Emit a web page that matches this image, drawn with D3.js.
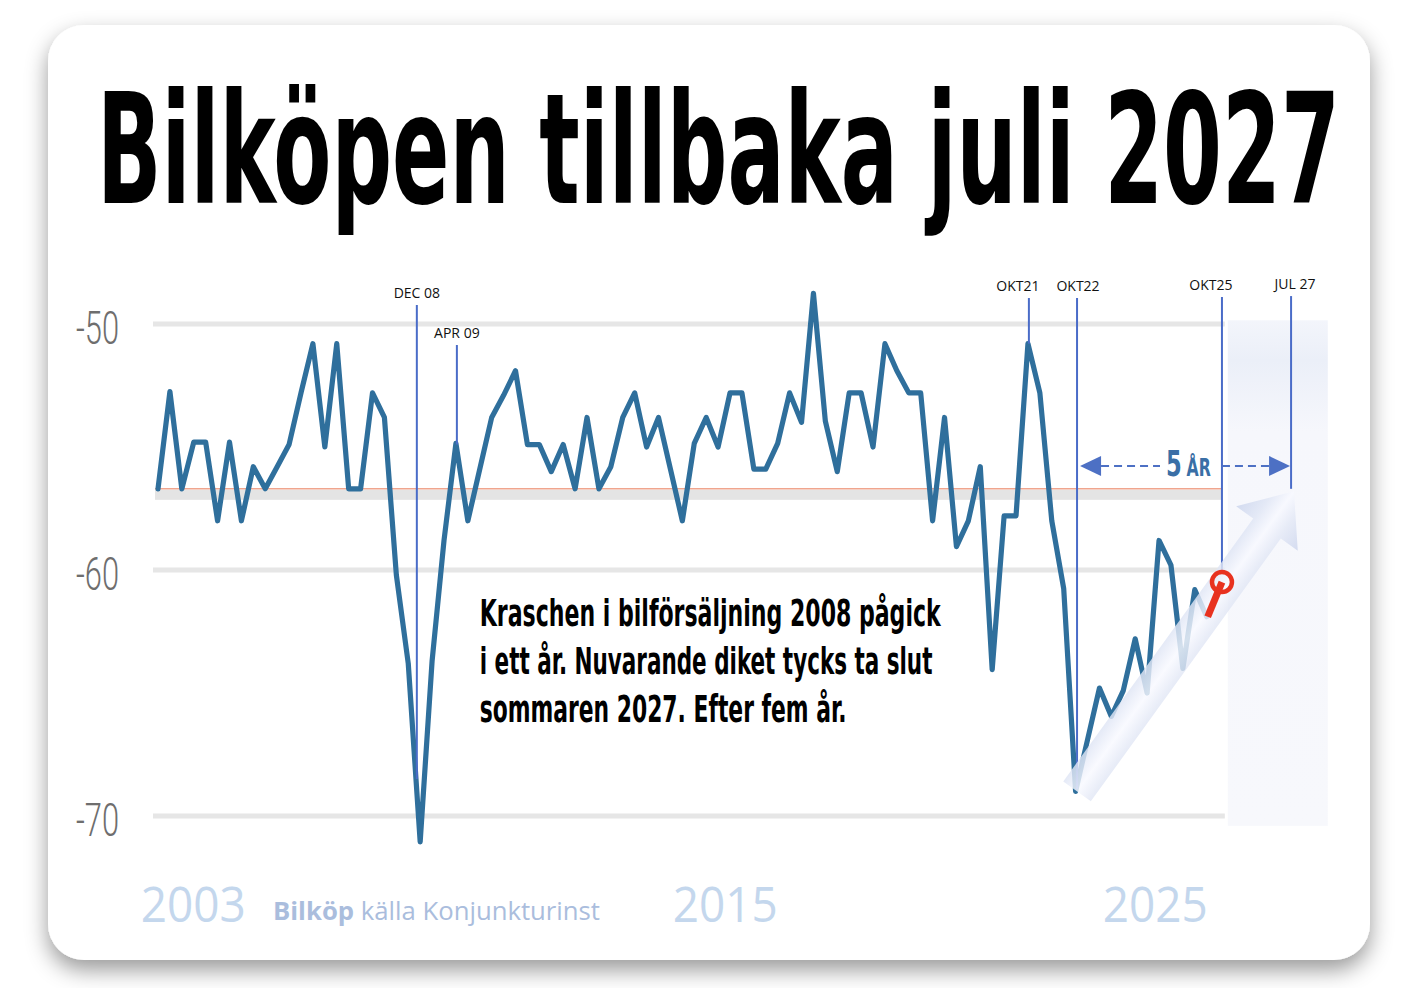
<!DOCTYPE html>
<html>
<head>
<meta charset="utf-8">
<script src="https://cdn.jsdelivr.net/npm/d3@7"></script>
<style>
  body { margin: 0; background: #fff; }
  svg { display: block; }
</style>
</head>
<body>
<svg></svg>
<script>
// Bilköp (Konjunkturinstitutet), ett värde per kvartal från 2003
var startYear = 2003;
var bilkop = [
  -56.7, -52.75, -56.7, -54.8, -54.8, -58.0, -54.8, -58.0, -55.8, -56.7,
  -55.8, -54.9, -52.8, -50.8, -55.0, -50.8, -56.7, -56.7, -52.8, -53.8,
  -60.2, -63.8, -71.05, -63.7, -58.8, -54.85, -58.0, -55.9, -53.8, -52.9,
  -51.9, -54.9, -54.9, -56.0, -54.9, -56.7, -53.8, -56.7, -55.8, -53.8,
  -52.8, -55.0, -53.8, -55.9, -58.0, -54.85, -53.8, -55.0, -52.8, -52.8,
  -55.9, -55.9, -54.85, -52.8, -54.0, -48.75, -53.95, -56.0, -52.8, -52.8,
  -55.0, -50.8, -51.9, -52.8, -52.8, -58.0, -53.8, -59.05, -58.0, -55.8,
  -64.05, -57.8, -57.8, -50.8, -52.8, -58.0, -60.75, -69.0, -66.9, -64.8,
  -65.95, -64.9, -62.8, -65.0, -58.8, -59.8, -64.0, -60.8, -61.9
];
var baseline = -56.7;          // medelnivå (röd linje)
var yTicks = [-50, -60, -70];

// markeringar i diagrammet
var markerNames = ["DEC 08", "APR 09", "OKT21", "OKT22", "OKT25", "JUL 27"];
var markerYears = [2008.43, 2009.27, 2021.27, 2022.28, 2025.32, 2026.77];
var markerEnds  = [-68.5, -54.9, -50.8, -68.9, -60.0, -56.7];

// årtal längst ner
var xLabels = ["2003", "2015", "2025"];
var xLabelYears = [2003.73, 2014.89, 2023.91];

// texten i diagrammet
var noteLines = [
  "Kraschen i bilförsäljning 2008 pågick",
  "i ett år. Nuvarande diket tycks ta slut",
  "sommaren 2027. Efter fem år."
];
var noteWidths = [461, 453, 367];

// prognospilen: från botten okt 22 till juli 27
var trendFrom = [2022.28, -69.0];
var trendTo = [2026.83, -56.8];
// röd nål vid okt 25
var pinAt = [2025.32, -60.49];
var spanValue = -55.77;   // höjd för "5 ÅR"-pilen

var years = bilkop.map(function (d, i) { return startYear + i / 4; });

var svgWidth = 1412, svgHeight = 988;
var svg = d3.select("svg")
  .attr("width", svgWidth)
  .attr("height", svgHeight);

var defs = svg.append("defs");

// trycker ihop en text till given bredd (smala typsnitt saknas)
function fitText(sel, width) {
  sel.each(function (d, i) {
    var w = typeof width === "function" ? width(d, i) : width;
    var n = this.getComputedTextLength();
    var x = +this.getAttribute("x");
    d3.select(this).attr("transform",
      "translate(" + x + ",0) scale(" + (w / n) + ",1) translate(" + (-x) + ",0)");
  });
}

// skugga runt kortet
var shadow = defs.append("filter").attr("id", "shadow")
  .attr("x", "-10%").attr("y", "-10%").attr("width", "120%").attr("height", "125%");
shadow.append("feDropShadow")
  .attr("dx", 0).attr("dy", 10).attr("stdDeviation", 11)
  .attr("flood-color", "#000").attr("flood-opacity", 0.4);

svg.append("rect")
  .attr("x", 48).attr("y", 25)
  .attr("width", 1322).attr("height", 935)
  .attr("rx", 36)
  .attr("fill", "#fff")
  .attr("filter", "url(#shadow)");

// skalor
var xScale = d3.scaleLinear()
  .domain([startYear, startYear + 22])
  .range([158, 1206.7]);

var yScale = d3.scaleLinear()
  .domain([-70, -50])
  .range([816, 324]);

// ljus panel till höger (framtiden)
var panelGrad = defs.append("linearGradient").attr("id", "panelGrad")
  .attr("x1", 0).attr("y1", 0).attr("x2", 0).attr("y2", 1);
panelGrad.append("stop").attr("offset", "0%").attr("stop-color", "#f3f5fb");
panelGrad.append("stop").attr("offset", "8%").attr("stop-color", "#ebeff8");
panelGrad.append("stop").attr("offset", "22%").attr("stop-color", "#f6f7fc");
panelGrad.append("stop").attr("offset", "100%").attr("stop-color", "#f7f8fc");

svg.append("rect")
  .attr("x", xScale(2025.38) + 3)
  .attr("y", yScale(-49.85))
  .attr("width", 100)
  .attr("height", yScale(-70.4) - yScale(-49.85))
  .attr("fill", "url(#panelGrad)");

// stödlinjer
svg.append("g")
  .selectAll("line")
  .data(yTicks)
  .enter()
  .append("line")
  .attr("x1", xScale(startYear) - 5)
  .attr("x2", xScale(2025.38))
  .attr("y1", function (d) { return yScale(d); })
  .attr("y2", function (d) { return yScale(d); })
  .attr("stroke", "#e6e6e6")
  .attr("stroke-width", 5);

// y-axeln, bara etiketterna
var yAxis = d3.axisLeft(yScale)
  .tickValues(yTicks)
  .tickSize(0)
  .tickPadding(0)
  .tickFormat(function (d) { return String(d); });

var gy = svg.append("g")
  .attr("transform", "translate(119,5)")
  .call(yAxis);
gy.select(".domain").remove();
gy.selectAll("text")
  .attr("font-family", "Roboto, sans-serif")
  .attr("font-weight", 300)
  .attr("font-size", 46)
  .attr("fill", "#6e6e6e")
  .attr("textLength", 43)
  .attr("lengthAdjust", "spacingAndGlyphs");

// grått band + röd medellinje
svg.append("rect")
  .attr("x", xScale(startYear) - 3)
  .attr("y", yScale(baseline) + 1)
  .attr("width", xScale(2025.32) - xScale(startYear) + 3)
  .attr("height", 10)
  .attr("fill", "#e4e4e4");
svg.append("line")
  .attr("x1", xScale(startYear) - 3)
  .attr("x2", xScale(2025.32))
  .attr("y1", yScale(baseline))
  .attr("y2", yScale(baseline))
  .attr("stroke", "#f0a58e")
  .attr("stroke-width", 1.6);

// själva kurvan
var line = d3.line()
  .x(function (d, i) { return xScale(years[i]); })
  .y(function (d) { return yScale(d); });

svg.append("path")
  .datum(bilkop)
  .attr("d", line)
  .attr("fill", "none")
  .attr("stroke", "#2f6f9c")
  .attr("stroke-width", 5.2)
  .attr("stroke-linejoin", "round")
  .attr("stroke-linecap", "round");

// lodräta markeringslinjer och etiketter
var labelTop = [-48.94, -50.57, -48.66, -48.66, -48.62, -48.58];
var labelShift = [0, 0, -11, 1, -11, 4];
var markers = svg.append("g");
markers.selectAll("line")
  .data(markerYears)
  .enter()
  .append("line")
  .attr("x1", function (d) { return xScale(d); })
  .attr("x2", function (d) { return xScale(d); })
  .attr("y1", function (d, i) { return yScale(labelTop[i]) + 7; })
  .attr("y2", function (d, i) { return yScale(markerEnds[i]); })
  .attr("stroke", "#4a6cc8")
  .attr("stroke-width", 2);
markers.selectAll("text")
  .data(markerNames)
  .enter()
  .append("text")
  .attr("x", function (d, i) { return xScale(markerYears[i]) + labelShift[i]; })
  .attr("y", function (d, i) { return yScale(labelTop[i]); })
  .attr("text-anchor", "middle")
  .attr("font-family", "'Open Sans', sans-serif")
  .attr("font-size", 14)
  .attr("fill", "#111")
  .text(function (d) { return d; });

// stor ljus pil (prognos)
var p0 = [xScale(trendFrom[0]), yScale(trendFrom[1])];
var p1 = [xScale(trendTo[0]), yScale(trendTo[1])];
var len = Math.hypot(p1[0] - p0[0], p1[1] - p0[1]);
var ux = (p1[0] - p0[0]) / len, uy = (p1[1] - p0[1]) / len;
var px = -uy, py = ux;
var shaftW = 17, headW = 38, headL = 46;
var bc = [p1[0] - ux * headL, p1[1] - uy * headL];
var arrowPts = [
  [p0[0] - px * shaftW, p0[1] - py * shaftW],
  [bc[0] - px * shaftW, bc[1] - py * shaftW],
  [bc[0] - px * headW, bc[1] - py * headW],
  p1,
  [bc[0] + px * headW, bc[1] + py * headW],
  [bc[0] + px * shaftW, bc[1] + py * shaftW],
  [p0[0] + px * shaftW, p0[1] + py * shaftW]
];
var mid = [(p0[0] + bc[0]) / 2, (p0[1] + bc[1]) / 2];
var arrowGrad = defs.append("linearGradient").attr("id", "arrowGrad")
  .attr("gradientUnits", "userSpaceOnUse")
  .attr("x1", mid[0] - px * 40).attr("y1", mid[1] - py * 40)
  .attr("x2", mid[0] + px * 40).attr("y2", mid[1] + py * 40);
[["0%", "#c9d3ec"], ["30%", "#e0e6f5"], ["50%", "#f8f9ff"], ["68%", "#e4e9f6"], ["100%", "#cad3ec"]]
  .forEach(function (s) {
    arrowGrad.append("stop").attr("offset", s[0]).attr("stop-color", s[1]);
  });
svg.append("path")
  .attr("d", d3.line()(arrowPts) + "Z")
  .attr("fill", "url(#arrowGrad)")
  .attr("opacity", 0.82);

// röd nål från sista värdet
var last = bilkop.length - 1;
svg.append("line")
  .attr("x1", xScale(years[last]) + 1)
  .attr("y1", yScale(bilkop[last]))
  .attr("x2", xScale(pinAt[0]))
  .attr("y2", yScale(pinAt[1]))
  .attr("stroke", "#e8321f")
  .attr("stroke-width", 7);
svg.append("circle")
  .attr("cx", xScale(pinAt[0]))
  .attr("cy", yScale(pinAt[1]))
  .attr("r", 10)
  .attr("fill", "none")
  .attr("stroke", "#e8321f")
  .attr("stroke-width", 4.5);

// "5 ÅR" dubbelpil
var sy = yScale(spanValue);
var xl = xScale(markerYears[3]) + 3, xr = xScale(markerYears[5]) - 1;
var arrowBlue = "#4d70c4";
svg.append("path")
  .attr("d", "M" + xl + "," + sy + "L" + (xl + 21) + "," + (sy - 10) + "L" + (xl + 21) + "," + (sy + 10) + "Z")
  .attr("fill", arrowBlue);
svg.append("path")
  .attr("d", "M" + xr + "," + sy + "L" + (xr - 21) + "," + (sy - 10) + "L" + (xr - 21) + "," + (sy + 10) + "Z")
  .attr("fill", arrowBlue);
svg.append("line")
  .attr("x1", xl + 21).attr("x2", 1160)
  .attr("y1", sy).attr("y2", sy)
  .attr("stroke", arrowBlue).attr("stroke-width", 2)
  .attr("stroke-dasharray", "8,5");
svg.append("line")
  .attr("x1", xScale(markerYears[4])).attr("x2", xr - 21)
  .attr("y1", sy).attr("y2", sy)
  .attr("stroke", arrowBlue).attr("stroke-width", 2)
  .attr("stroke-dasharray", "8,5");
var five = svg.append("text")
  .attr("x", 1166)
  .attr("y", sy + 10)
  .attr("font-family", "'DejaVu Sans Condensed', sans-serif")
  .attr("font-weight", "bold")
  .attr("fill", "#3a6fa6");
five.append("tspan").attr("font-size", 36).text("5");
five.append("tspan").attr("font-size", 25).attr("dx", 7).text("ÅR");
fitText(five, 40);

// rubrik
var title = svg.append("text")
  .attr("x", 97)
  .attr("y", 203)
  .attr("font-family", "'DejaVu Sans Condensed', 'DejaVu Sans', sans-serif")
  .attr("font-weight", "bold")
  .attr("font-size", 154)
  .attr("fill", "#000")
  .text("Bilköpen tillbaka juli 2027");
fitText(title, 1243);

// kommentar
var notes = svg.append("g")
  .selectAll("text")
  .data(noteLines)
  .enter()
  .append("text")
  .attr("x", xScale(2009.75))
  .attr("y", function (d, i) { return yScale(-62.28) + i * 48; })
  .attr("font-family", "'DejaVu Sans Condensed', 'DejaVu Sans', sans-serif")
  .attr("font-weight", "bold")
  .attr("font-size", 37)
  .attr("fill", "#000")
  .text(function (d) { return d; });
fitText(notes, function (d, i) { return noteWidths[i]; });

// årtal under diagrammet
var xAxis = d3.axisBottom(xScale)
  .tickValues(xLabelYears)
  .tickSize(0)
  .tickPadding(0)
  .tickFormat(function (d, i) { return xLabels[i]; });
var gx = svg.append("g")
  .attr("transform", "translate(0,882)")
  .call(xAxis);
gx.select(".domain").remove();
gx.selectAll("text")
  .attr("dy", "0.8em")
  .attr("font-family", "'Open Sans', sans-serif")
  .attr("font-size", 50)
  .attr("fill", "#c4d7ed")
  .attr("textLength", 105)
  .attr("lengthAdjust", "spacingAndGlyphs");

// källa
var src = svg.append("text")
  .attr("x", 273)
  .attr("y", 920)
  .attr("font-family", "'Open Sans', sans-serif")
  .attr("font-size", 25)
  .attr("fill", "#aabddd")
  .attr("textLength", 327)
  .attr("lengthAdjust", "spacingAndGlyphs");
src.append("tspan").attr("font-weight", "bold").text("Bilköp");
src.append("tspan").text(" källa Konjunkturinst");
</script>
</body>
</html>
